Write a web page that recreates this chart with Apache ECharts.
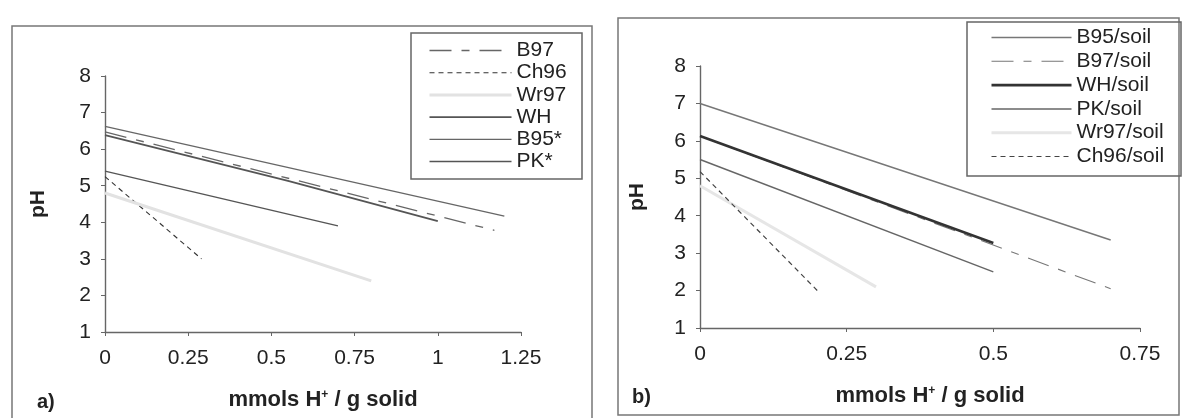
<!DOCTYPE html>
<html>
<head>
<meta charset="utf-8">
<script src="https://cdn.jsdelivr.net/npm/echarts@6/dist/echarts.min.js"></script>
<style>
  html, body { margin: 0; padding: 0; background: #fff; }
  #chart { width: 1184px; height: 418px; }
</style>
</head>
<body>
<div id="chart"></div>
<script>
// ---- axis ticks ----
const xTicksA = [0, 0.25, 0.5, 0.75, 1, 1.25];
const xTicksB = [0, 0.25, 0.5, 0.75];
const yTicks = [1, 2, 3, 4, 5, 6, 7, 8];

// ---- panel a) solids: [mmol H+ per g, pH] ----
const namesA = ['B97', 'Ch96', 'Wr97', 'WH', 'B95*', 'PK*'];
const b97 = [[0, 6.47], [1.17, 3.78]];
const ch96 = [[0, 5.25], [0.29, 3.0]];
const wr97 = [[0, 4.8], [0.8, 2.4]];
const wh = [[0, 6.38], [0.55, 5.13], [1.0, 4.03]];
const b95 = [[0, 6.62], [1.2, 4.17]];
const pk = [[0, 5.4], [0.7, 3.9]];

// ---- panel b) solid/soil mixtures ----
const namesB = ['B95/soil', 'B97/soil', 'WH/soil', 'PK/soil', 'Wr97/soil', 'Ch96/soil'];
const b95Soil = [[0, 7.0], [0.7, 3.35]];
const b97Soil = [[0, 6.13], [0.7, 2.05]];
const whSoil = [[0, 6.13], [0.5, 3.27]];
const pkSoil = [[0, 5.5], [0.5, 2.5]];
const wr97Soil = [[0, 4.8], [0.3, 2.1]];
const ch96Soil = [[0, 5.18], [0.2, 2.0]];

const dataA = [b97, ch96, wr97, wh, b95, pk];
const dataB = [b95Soil, b97Soil, whSoil, pkSoil, wr97Soil, ch96Soil];

// line styles per series
const longDash = [22, 10, 8, 10];
const shortDash = [5, 4];
const stylesA = [
  { color: '#666', width: 1.3, type: longDash },
  { color: '#333', width: 1.1, type: shortDash },
  { color: '#e2e2e2', width: 3, type: 'solid' },
  { color: '#555', width: 1.8, type: 'solid' },
  { color: '#666', width: 1.3, type: 'solid' },
  { color: '#555', width: 1.4, type: 'solid' }
];
const stylesB = [
  { color: '#777', width: 1.5, type: 'solid' },
  { color: '#777', width: 1.1, type: longDash },
  { color: '#333', width: 2.6, type: 'solid' },
  { color: '#666', width: 1.5, type: 'solid' },
  { color: '#e6e6e6', width: 3, type: 'solid' },
  { color: '#444', width: 1.2, type: shortDash }
];

const FONT = 'Liberation Sans, Arial, sans-serif';
const TXT = '#222';
const CLEAR = 'rgba(0,0,0,0)';

function makeSeries(names, data, styles, axisIndex) {
  return names.map((n, i) => ({
    name: n,
    type: 'line',
    xAxisIndex: axisIndex,
    yAxisIndex: axisIndex,
    data: data[i],
    symbol: 'none',
    showSymbol: false,
    silent: true,
    lineStyle: { color: styles[i].color, width: styles[i].width, type: styles[i].type },
    itemStyle: { color: styles[i].color },
    z: 3
  }));
}

// legend keys show only the line sample, no marker
function legendData(names, styles) {
  return names.map((n, i) => ({
    name: n,
    itemStyle: { color: CLEAR, borderColor: CLEAR, borderWidth: 0, opacity: 0 },
    lineStyle: { color: styles[i].color, width: styles[i].width, type: styles[i].type, opacity: 1 }
  }));
}

function xAxis(ticks, grid) {
  return {
    type: 'value', gridIndex: grid,
    min: ticks[0], max: ticks[ticks.length - 1], interval: ticks[1] - ticks[0],
    axisLine: { show: true, onZero: false, lineStyle: { color: '#666', width: 1.4 } },
    axisTick: { show: true, length: 4, lineStyle: { color: '#666' } },
    splitLine: { show: false },
    axisLabel: { color: TXT, fontFamily: FONT, fontSize: 21, margin: 16 },
    name: 'mmols H{sup|+} / g solid',
    nameLocation: 'middle',
    nameGap: 57,
    nameTextStyle: {
      color: TXT, fontFamily: FONT, fontSize: 22, fontWeight: 'bold',
      padding: [0, 0, 0, 20],
      rich: { sup: { fontSize: 12, fontWeight: 'bold', fontFamily: FONT, color: TXT, padding: [0, 0, 10, 0] } }
    }
  };
}

function yAxis(grid, gap) {
  return {
    type: 'value', gridIndex: grid,
    min: yTicks[0], max: yTicks[yTicks.length - 1], interval: 1,
    axisLine: { show: true, onZero: false, lineStyle: { color: '#666', width: 1.4 } },
    axisTick: { show: true, length: 4, lineStyle: { color: '#666' } },
    splitLine: { show: false },
    axisLabel: { color: TXT, fontFamily: FONT, fontSize: 21, margin: 14 },
    name: 'pH',
    nameLocation: 'middle',
    nameGap: gap,
    nameRotate: 90,
    nameTextStyle: { color: TXT, fontFamily: FONT, fontSize: 21, fontWeight: 'bold' }
  };
}

const chart = echarts.init(document.getElementById('chart'), null, { renderer: 'canvas' });

chart.setOption({
  backgroundColor: '#fff',
  animation: false,
  grid: [
    { left: 105, top: 76, width: 416, height: 256 },
    { left: 700, top: 66, width: 440, height: 262 }
  ],
  xAxis: [xAxis(xTicksA, 0), xAxis(xTicksB, 1)],
  yAxis: [yAxis(0, 56), yAxis(1, 52)],
  legend: [
    {
      show: true,
      orient: 'vertical', left: 428, top: 40, padding: 0,
      itemWidth: 82, itemHeight: 14, itemGap: 1.2,
      selectedMode: false,
      textStyle: { color: TXT, fontFamily: FONT, fontSize: 21, lineHeight: 20 },
      data: legendData(namesA, stylesA)
    },
    {
      show: true,
      orient: 'vertical', left: 990, top: 27, padding: 0,
      itemWidth: 80, itemHeight: 14, itemGap: 2.8,
      selectedMode: false,
      textStyle: { color: TXT, fontFamily: FONT, fontSize: 21, lineHeight: 20 },
      data: legendData(namesB, stylesB)
    }
  ],
  graphic: [
    // panel frames
    { type: 'rect', shape: { x: 12, y: 26, width: 580, height: 400 }, style: { fill: 'none', stroke: '#777', lineWidth: 1.5 }, silent: true },
    { type: 'rect', shape: { x: 618, y: 18, width: 561, height: 397 }, style: { fill: 'none', stroke: '#777', lineWidth: 1.5 }, silent: true },
    // legend boxes
    { type: 'rect', shape: { x: 411, y: 33, width: 171, height: 146 }, style: { fill: 'none', stroke: '#666', lineWidth: 1.5 }, silent: true },
    { type: 'rect', shape: { x: 967, y: 22, width: 214, height: 154 }, style: { fill: 'none', stroke: '#666', lineWidth: 1.5 }, silent: true },
    // panel letters
    { type: 'text', left: 37, top: 392, style: { text: 'a)', fill: TXT, font: 'bold 20px ' + FONT }, silent: true },
    { type: 'text', left: 632, top: 387, style: { text: 'b)', fill: TXT, font: 'bold 20px ' + FONT }, silent: true }
  ],
  series: [
    ...makeSeries(namesA, dataA, stylesA, 0),
    ...makeSeries(namesB, dataB, stylesB, 1)
  ]
});
</script>
</body>
</html>
